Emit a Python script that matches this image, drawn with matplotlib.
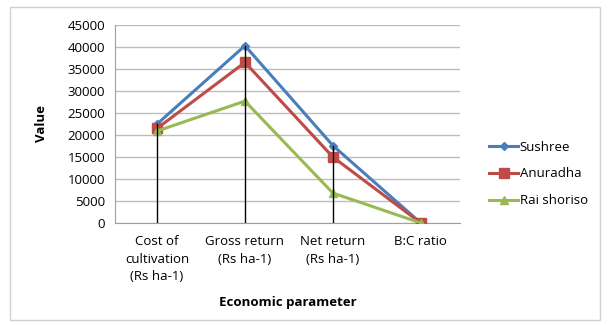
import matplotlib
matplotlib.use("Agg")
import matplotlib.pyplot as plt
from matplotlib.patches import Rectangle

categories = ["Cost of\ncultivation\n(Rs ha-1)", "Gross return\n(Rs ha-1)",
              "Net return\n(Rs ha-1)", "B:C ratio"]
sushree = [22500, 40300, 17600, 2.1]
anuradha = [21500, 36500, 15000, 1.9]
rai_shoriso = [20900, 27700, 6800, 1.4]
y_ticks = [0, 5000, 10000, 15000, 20000, 25000, 30000, 35000, 40000, 45000]

plt.rcParams["font.family"] = ["Open Sans", "DejaVu Sans"]

fig = plt.figure(figsize=(6.08, 3.25), dpi=100)
fig.patches.append(Rectangle((0.017, 0.015), 0.97, 0.963, transform=fig.transFigure,
                             fill=False, edgecolor="#d0d0d0", linewidth=1))
ax = fig.add_axes([0.189, 0.314, 0.568, 0.609])

x = list(range(len(categories)))
series = [
    ("Sushree", sushree, "#4a7ebb", "D", 4),
    ("Anuradha", anuradha, "#be4b48", "s", 7),
    ("Rai shoriso", rai_shoriso, "#98b954", "^", 6),
]
for name, vals, color, marker, ms in series:
    ax.plot(x, vals, color=color, marker=marker, markersize=ms, linewidth=2.2,
            label=name, zorder=3)

# drop lines from the axis up to the highest point at each category
for i in x:
    top = max(sushree[i], anuradha[i], rai_shoriso[i])
    ax.plot([i, i], [0, top], color="black", linewidth=1, zorder=4)

ax.set_xlim(-0.48, 3.45)
ax.set_ylim(0, 45000)
ax.set_yticks(y_ticks)
ax.set_xticks(x)
ax.set_xticklabels(categories, fontsize=9.5, linespacing=1.45)
ax.tick_params(axis="y", labelsize=9.5, length=0, pad=7)
ax.tick_params(axis="x", length=0, pad=9)
ax.yaxis.grid(True, color="#bdbdbd", linewidth=1)
ax.set_axisbelow(True)
for side in ["top", "right"]:
    ax.spines[side].set_visible(False)
for side in ["left", "bottom"]:
    ax.spines[side].set_color("#a0a0a0")

ax.set_ylabel("Value", fontsize=9.5, fontweight="bold", labelpad=14)
ax.set_xlabel("Economic parameter", fontsize=9.5, fontweight="bold", labelpad=9)

fig.legend(loc="center left", bbox_to_anchor=(0.785, 0.465), frameon=False,
           fontsize=9.5, handlelength=2.2, handletextpad=0.1, labelspacing=1.05)

fig.savefig("out.png", dpi=100)
